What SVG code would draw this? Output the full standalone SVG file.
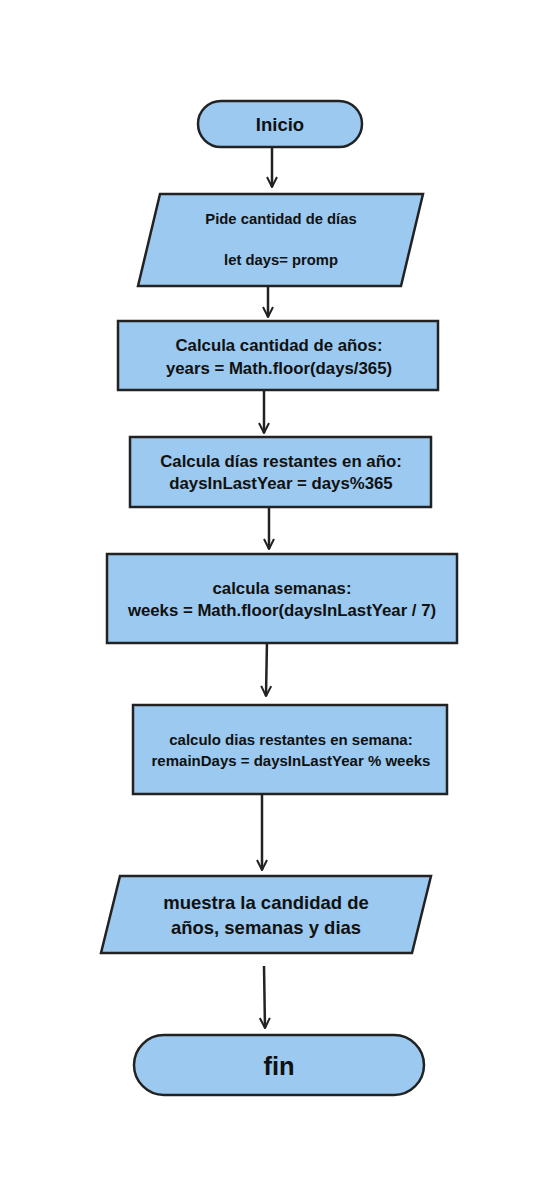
<svg xmlns="http://www.w3.org/2000/svg" width="558" height="1196" viewBox="0 0 558 1196">
<defs>
<marker id="arr" viewBox="0 0 12 12" refX="11" refY="6" markerWidth="12" markerHeight="12" markerUnits="userSpaceOnUse" orient="auto">
<polyline points="1,1 11,6 1,11" fill="none" stroke="#222" stroke-width="2"/>
</marker>
<style>
.s{fill:#9BC9EF;stroke:#222;stroke-width:2.5}
.t{font-family:"Liberation Sans",Arial,sans-serif;font-weight:bold;fill:#111;text-anchor:middle}
.c{stroke:#222;stroke-width:2.5;fill:none;marker-end:url(#arr)}
</style>
</defs>
<rect width="558" height="1196" fill="#fff"/>
<g id="connectors">
<line class="c" x1="272" y1="145" x2="272" y2="187"/>
<line class="c" x1="268" y1="282" x2="268" y2="317"/>
<line class="c" x1="264" y1="390" x2="264" y2="433"/>
<line class="c" x1="269" y1="505" x2="269" y2="549"/>
<line class="c" x1="267" y1="640" x2="266" y2="696"/>
<line class="c" x1="262" y1="790" x2="262" y2="870"/>
<line class="c" x1="264" y1="966" x2="265" y2="1028"/>
</g>
<g id="inicio">
<rect class="s" x="198" y="101" width="164" height="46" rx="23"/>
<text class="t" x="280" y="131" font-size="18.5">Inicio</text>
</g>
<g id="input1">
<polygon class="s" points="160,194 423,194 401,286 138,286"/>
<text class="t" x="281" y="224" font-size="14.8">Pide cantidad de días</text>
<text class="t" x="281" y="265" font-size="14.8">let days= promp</text>
</g>
<g id="years">
<rect class="s" x="118" y="321" width="320" height="69"/>
<text class="t" x="279" y="351" font-size="16.8">Calcula cantidad de años:</text>
<text class="t" x="279" y="374" font-size="16.8">years = Math.floor(days/365)</text>
</g>
<g id="daysLeft">
<rect class="s" x="130" y="437" width="301" height="70"/>
<text class="t" x="281" y="467" font-size="16.8">Calcula días restantes en año:</text>
<text class="t" x="281" y="489" font-size="16.8">daysInLastYear = days%365</text>
</g>
<g id="weeks">
<rect class="s" x="107" y="554" width="350" height="89"/>
<text class="t" x="282" y="594" font-size="16.8">calcula semanas:</text>
<text class="t" x="282" y="616" font-size="16.8">weeks = Math.floor(daysInLastYear / 7)</text>
</g>
<g id="remain">
<rect class="s" x="133" y="705" width="314" height="89"/>
<text class="t" x="291" y="745" font-size="15">calculo dias restantes en semana:</text>
<text class="t" x="291" y="766" font-size="15">remainDays = daysInLastYear % weeks</text>
</g>
<g id="output">
<polygon class="s" points="120,876 431,876 412,953 101,953"/>
<text class="t" x="266" y="909" font-size="18.5">muestra la candidad de</text>
<text class="t" x="266" y="934" font-size="18.5">años, semanas y dias</text>
</g>
<g id="fin">
<rect class="s" x="134" y="1035" width="290" height="60" rx="30"/>
<text class="t" x="279" y="1075" font-size="25.5">fin</text>
</g>
</svg>
